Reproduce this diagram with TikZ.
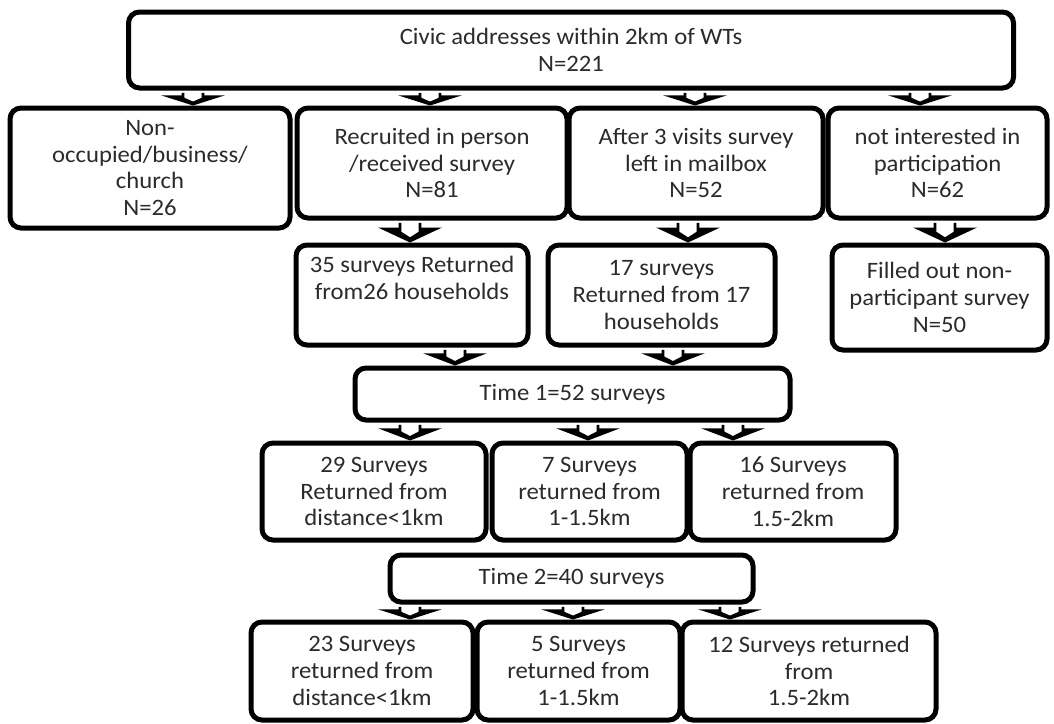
\documentclass[tikz,border=0pt]{standalone}
\usepackage{fontspec}
\setmainfont{Carlito}[FakeStretch=1.05]
\usepackage{tikz}
\usetikzlibrary{calc}
\definecolor{cT}{HTML}{2B2B2B}
\tikzset{
  Bx/.style={draw=black, fill=white, line width=5pt, rounded corners=11pt, align=center,
    text=cT, inner sep=0pt, font=\fontsize{23.5}{26.8}\selectfont},
  Shaft/.style={draw=black, fill=white, line width=2.8pt, line join=miter},
}
% block arrow from node #1 (at x=#2) down to node #3
\newcommand{\darr}[3]{%
  \path let \p1=(#1.south), \p2=(#3.north) in (#2pt,\y1) coordinate (s) (#2pt,\y2) coordinate (e);
  \fill[black] ($(s)!0.32!(e)+(-32pt,0)$) -- ($(s)!0.32!(e)+(32pt,0)$) -- (e) -- cycle;
  \draw[Shaft] ($(s)+(-10pt,-2.4pt)$) -- ($(s)!0.55!(e)+(-10pt,0)$) -- ($(s)!0.84!(e)$)
    -- ($(s)!0.55!(e)+(10pt,0)$) -- ($(s)+(10pt,-2.4pt)$);
}

\begin{document}
\begin{tikzpicture}[x=1pt,y=-1pt]
\useasboundingbox[fill=white] (0,0) rectangle (1054,723);
% row 1
\node[Bx, minimum width=885, minimum height=76] (civ) at (571,50) {Civic addresses within 2km of WTs\\N=221};
% row 2
\node[Bx, minimum width=280, minimum height=120] (non) at (150,168) {Non-\\occupied/business/\\church\\N=26};
\node[Bx, minimum width=270, minimum height=110] (rec) at (432,163) {Recruited in person\\/received survey\\N=81};
\node[Bx, minimum width=254, minimum height=110] (aft) at (696,163) {After 3 visits survey\\left in mailbox\\N=52};
\node[Bx, minimum width=219, minimum height=110] (nint) at (937.5,163) {not interested in\\participation\\N=62};
% row 3
\node[Bx, minimum width=232, minimum height=100] (ret35) at (412,295) {35 surveys Returned\\from26 households\\\strut};
\node[Bx, minimum width=227, minimum height=100] (ret17) at (661.5,295) {17 surveys\\Returned from 17\\households};
\node[Bx, minimum width=215, minimum height=105] (fill) at (939.5,297.5) {Filled out non-\\participant survey\\N=50};
% time 1
\node[Bx, minimum width=435, minimum height=52] (tA) at (572.5,394) {Time 1=52 surveys};
\node[Bx, minimum width=224, minimum height=97] (a29) at (374,491.5) {29 Surveys\\Returned from\\distance<1km};
\node[Bx, minimum width=195, minimum height=97] (a7) at (589.5,491.5) {7 Surveys\\returned from\\1-1.5km};
\node[Bx, minimum width=206, minimum height=97] (a16) at (793,491.5) {16 Surveys\\returned from\\1.5-2km};
% time 2
\node[Bx, minimum width=363, minimum height=47] (tB) at (571.5,578.5) {Time 2=40 surveys};
\node[Bx, minimum width=222, minimum height=98] (b23) at (362,671) {23 Surveys\\returned from\\distance<1km};
\node[Bx, minimum width=203, minimum height=98] (b5) at (578.5,671) {5 Surveys\\returned from\\1-1.5km};
\node[Bx, minimum width=254, minimum height=98] (b12) at (809,671) {12 Surveys returned\\from\\1.5-2km};
% arrows
\darr{civ}{193}{non}
\darr{civ}{430}{rec}
\darr{civ}{695}{aft}
\darr{civ}{920}{nint}
\darr{rec}{410}{ret35}
\darr{aft}{688}{ret17}
\darr{nint}{945}{fill}
\darr{ret35}{455}{tA}
\darr{ret17}{673}{tA}
\darr{tA}{410}{a29}
\darr{tA}{588}{a7}
\darr{tA}{733}{a16}
\darr{tB}{410}{b23}
\darr{tB}{573}{b5}
\darr{tB}{730}{b12}
\end{tikzpicture}
\end{document}
